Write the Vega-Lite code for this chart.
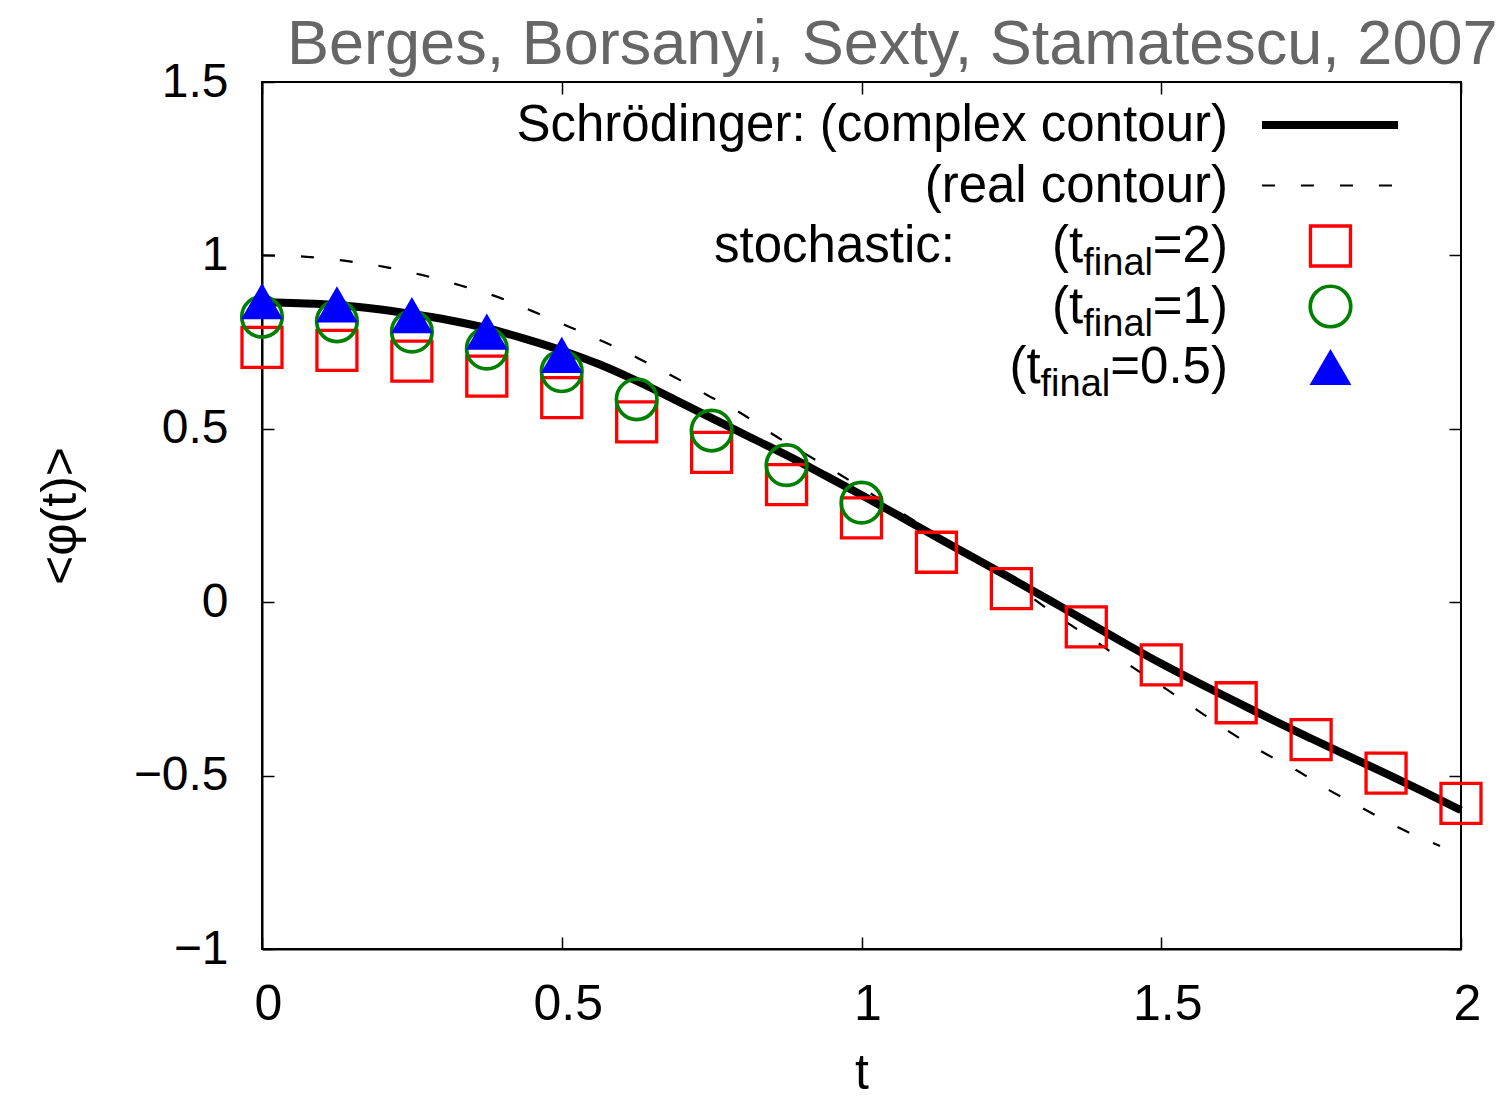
{
  "$schema": "https://vega.github.io/schema/vega-lite/v6.json",
  "width": 1199,
  "height": 867,
  "autosize": {"type": "none"},
  "padding": {"left": 262, "top": 82, "right": 40, "bottom": 151},
  "background": "white",
  "config": {
    "font": "Liberation Sans",
    "view": {"stroke": "black", "strokeWidth": 2},
    "axis": {
      "grid": false,
      "domainColor": "black",
      "domainWidth": 2,
      "tickColor": "black",
      "tickWidth": 1.5,
      "labelColor": "black",
      "titleColor": "black",
      "labelFont": "Liberation Sans",
      "titleFont": "Liberation Sans",
      "titleFontWeight": "normal",
      "labelFlush": false
    }
  },
  "datasets": {
    "curves": [
      {"series": "complex", "t": 0, "v": 0.865},
      {"series": "complex", "t": 0.0625, "v": 0.862},
      {"series": "complex", "t": 0.125, "v": 0.857},
      {"series": "complex", "t": 0.1875, "v": 0.846},
      {"series": "complex", "t": 0.25, "v": 0.831},
      {"series": "complex", "t": 0.3125, "v": 0.813},
      {"series": "complex", "t": 0.375, "v": 0.79},
      {"series": "complex", "t": 0.4375, "v": 0.76},
      {"series": "complex", "t": 0.5, "v": 0.726},
      {"series": "complex", "t": 0.5625, "v": 0.686},
      {"series": "complex", "t": 0.625, "v": 0.638},
      {"series": "complex", "t": 0.6875, "v": 0.585},
      {"series": "complex", "t": 0.75, "v": 0.531},
      {"series": "complex", "t": 0.8125, "v": 0.477},
      {"series": "complex", "t": 0.875, "v": 0.424},
      {"series": "complex", "t": 0.9375, "v": 0.367},
      {"series": "complex", "t": 1.0, "v": 0.309},
      {"series": "complex", "t": 1.0625, "v": 0.249},
      {"series": "complex", "t": 1.125, "v": 0.188},
      {"series": "complex", "t": 1.1875, "v": 0.128},
      {"series": "complex", "t": 1.25, "v": 0.068},
      {"series": "complex", "t": 1.3125, "v": 0.007},
      {"series": "complex", "t": 1.375, "v": -0.055},
      {"series": "complex", "t": 1.4375, "v": -0.117},
      {"series": "complex", "t": 1.5, "v": -0.177},
      {"series": "complex", "t": 1.5625, "v": -0.233},
      {"series": "complex", "t": 1.625, "v": -0.287},
      {"series": "complex", "t": 1.6875, "v": -0.341},
      {"series": "complex", "t": 1.75, "v": -0.393},
      {"series": "complex", "t": 1.8125, "v": -0.444},
      {"series": "complex", "t": 1.875, "v": -0.494},
      {"series": "complex", "t": 1.9375, "v": -0.546},
      {"series": "complex", "t": 2.0, "v": -0.6},
      {"series": "real", "t": 0, "v": 1.0},
      {"series": "real", "t": 0.075, "v": 0.996},
      {"series": "real", "t": 0.14, "v": 0.984},
      {"series": "real", "t": 0.204, "v": 0.967},
      {"series": "real", "t": 0.268, "v": 0.943},
      {"series": "real", "t": 0.33, "v": 0.914},
      {"series": "real", "t": 0.395, "v": 0.879},
      {"series": "real", "t": 0.45, "v": 0.84},
      {"series": "real", "t": 0.51, "v": 0.796},
      {"series": "real", "t": 0.57, "v": 0.751},
      {"series": "real", "t": 0.628, "v": 0.703},
      {"series": "real", "t": 0.687, "v": 0.65},
      {"series": "real", "t": 0.743, "v": 0.597},
      {"series": "real", "t": 0.799, "v": 0.545},
      {"series": "real", "t": 0.854, "v": 0.482},
      {"series": "real", "t": 0.91, "v": 0.424},
      {"series": "real", "t": 0.966, "v": 0.366},
      {"series": "real", "t": 1.1, "v": 0.222},
      {"series": "real", "t": 1.24, "v": 0.073},
      {"series": "real", "t": 1.29, "v": 0.006},
      {"series": "real", "t": 1.345, "v": -0.061},
      {"series": "real", "t": 1.395, "v": -0.118},
      {"series": "real", "t": 1.452, "v": -0.187},
      {"series": "real", "t": 1.506, "v": -0.248},
      {"series": "real", "t": 1.56, "v": -0.311},
      {"series": "real", "t": 1.614, "v": -0.374},
      {"series": "real", "t": 1.669, "v": -0.432},
      {"series": "real", "t": 1.725, "v": -0.484},
      {"series": "real", "t": 1.78, "v": -0.542},
      {"series": "real", "t": 1.836, "v": -0.594},
      {"series": "real", "t": 1.895, "v": -0.649},
      {"series": "real", "t": 1.965, "v": -0.703}
    ],
    "mc": [
      {"tfinal": 2, "t": 0, "v": 0.735},
      {"tfinal": 2, "t": 0.125, "v": 0.726},
      {"tfinal": 2, "t": 0.25, "v": 0.695},
      {"tfinal": 2, "t": 0.375, "v": 0.652},
      {"tfinal": 2, "t": 0.5, "v": 0.59},
      {"tfinal": 2, "t": 0.625, "v": 0.52},
      {"tfinal": 2, "t": 0.75, "v": 0.432},
      {"tfinal": 2, "t": 0.875, "v": 0.339},
      {"tfinal": 2, "t": 1.0, "v": 0.243},
      {"tfinal": 2, "t": 1.125, "v": 0.144},
      {"tfinal": 2, "t": 1.25, "v": 0.039},
      {"tfinal": 2, "t": 1.375, "v": -0.071},
      {"tfinal": 2, "t": 1.5, "v": -0.181},
      {"tfinal": 2, "t": 1.625, "v": -0.29},
      {"tfinal": 2, "t": 1.75, "v": -0.396},
      {"tfinal": 2, "t": 1.875, "v": -0.493},
      {"tfinal": 2, "t": 2.0, "v": -0.58},
      {"tfinal": 1, "t": 0, "v": 0.823},
      {"tfinal": 1, "t": 0.125, "v": 0.81},
      {"tfinal": 1, "t": 0.25, "v": 0.78},
      {"tfinal": 1, "t": 0.375, "v": 0.731},
      {"tfinal": 1, "t": 0.5, "v": 0.666},
      {"tfinal": 1, "t": 0.625, "v": 0.585},
      {"tfinal": 1, "t": 0.75, "v": 0.495},
      {"tfinal": 1, "t": 0.875, "v": 0.395},
      {"tfinal": 1, "t": 1.0, "v": 0.287},
      {"tfinal": 0.5, "t": 0, "v": 0.868},
      {"tfinal": 0.5, "t": 0.125, "v": 0.859},
      {"tfinal": 0.5, "t": 0.25, "v": 0.828},
      {"tfinal": 0.5, "t": 0.375, "v": 0.78},
      {"tfinal": 0.5, "t": 0.5, "v": 0.713}
    ],
    "legend": [
      {"row": 1, "series": "complex", "label": "Schrödinger: (complex contour)"},
      {"row": 2, "series": "real", "label": "(real contour)"},
      {"row": 3, "series": "tf2", "head": "stochastic:", "pre": "(t", "sub": "final", "post": "=2)"},
      {"row": 4, "series": "tf1", "pre": "(t", "sub": "final", "post": "=1)"},
      {"row": 5, "series": "tf05", "pre": "(t", "sub": "final", "post": "=0.5)"}
    ]
  },
  "layer": [
    {
      "layer": [
        {
          "data": {"name": "curves"},
          "transform": [{"filter": "datum.series == 'complex'"}],
          "mark": {"type": "line", "color": "black", "strokeWidth": 8, "interpolate": "monotone", "strokeCap": "butt"},
          "encoding": {
            "x": {
              "field": "t", "type": "quantitative",
              "scale": {"domain": [0, 2], "nice": false},
              "axis": {
                "orient": "bottom", "values": [0, 0.5, 1, 1.5, 2], "format": "~g",
                "tickSize": -12, "labelPadding": 42, "labelFontSize": 50, "labelOffset": 6,
                "title": "t", "titleFontSize": 50, "titleBaseline": "alphabetic", "titleY": 139
              }
            },
            "y": {
              "field": "v", "type": "quantitative",
              "scale": {"domain": [-1, 1.5], "nice": false},
              "axis": {
                "orient": "left", "values": [-1, -0.5, 0, 0.5, 1, 1.5], "format": "~g",
                "tickSize": -12, "labelPadding": 46, "labelFontSize": 48,
                "title": "<φ(t)>", "titleFontSize": 50, "titleBaseline": "alphabetic",
                "titleAngle": -90, "titleX": -187, "titleY": 433.5
              }
            }
          }
        },
        {
          "data": {"name": "curves"},
          "transform": [{"filter": "datum.series == 'real'"}],
          "mark": {"type": "line", "color": "black", "strokeWidth": 2.2, "strokeDash": [13, 26], "interpolate": "monotone"},
          "encoding": {
            "x": {
              "field": "t", "type": "quantitative",
              "scale": {"domain": [0, 2], "nice": false},
              "axis": {
                "orient": "top", "values": [0, 0.5, 1, 1.5, 2], "labels": false, "tickSize": -12, "domain": false,
                "title": "Berges, Borsanyi, Sexty, Stamatescu, 2007",
                "titleColor": "#666666", "titleFontSize": 63, "titleFontWeight": "normal",
                "titleAlign": "right", "titleAnchor": "end", "titleBaseline": "alphabetic",
                "titleX": 1235, "titleY": -19, "titleAngle": 0
              }
            },
            "y": {
              "field": "v", "type": "quantitative",
              "scale": {"domain": [-1, 1.5], "nice": false},
              "axis": {"orient": "right", "values": [-1, -0.5, 0, 0.5, 1, 1.5], "labels": false, "title": null, "tickSize": -12, "domain": false}
            }
          }
        },
        {
          "data": {"name": "mc"},
          "transform": [{"filter": "datum.tfinal == 2"}],
          "mark": {"type": "point", "shape": "square", "filled": false, "color": "#ff0000", "strokeWidth": 3.3, "size": 1600, "opacity": 1},
          "encoding": {
            "x": {"field": "t", "type": "quantitative", "scale": {"domain": [0, 2], "nice": false}, "axis": null},
            "y": {"field": "v", "type": "quantitative", "scale": {"domain": [-1, 1.5], "nice": false}, "axis": null}
          }
        },
        {
          "data": {"name": "mc"},
          "transform": [{"filter": "datum.tfinal == 1"}],
          "mark": {"type": "point", "shape": "circle", "filled": false, "color": "#008000", "strokeWidth": 3.7, "size": 1640, "opacity": 1},
          "encoding": {
            "x": {"field": "t", "type": "quantitative", "scale": {"domain": [0, 2], "nice": false}, "axis": null},
            "y": {"field": "v", "type": "quantitative", "scale": {"domain": [-1, 1.5], "nice": false}, "axis": null}
          }
        },
        {
          "data": {"name": "mc"},
          "transform": [{"filter": "datum.tfinal == 0.5"}],
          "mark": {"type": "point", "shape": "triangle-up", "filled": true, "color": "#0000ff", "size": 1750, "opacity": 1},
          "encoding": {
            "x": {"field": "t", "type": "quantitative", "scale": {"domain": [0, 2], "nice": false}, "axis": null},
            "y": {"field": "v", "type": "quantitative", "scale": {"domain": [-1, 1.5], "nice": false}, "axis": null}
          }
        }
      ],
      "resolve": {"axis": {"x": "independent", "y": "independent"}}
    },
    {
      "data": {"name": "legend"},
      "layer": [
        {
          "transform": [{"filter": "datum.label != null"}],
          "mark": {"type": "text", "align": "right", "baseline": "alphabetic", "dy": 16, "fontSize": 51, "color": "black"},
          "encoding": {
            "x": {"datum": 1.6113, "type": "quantitative", "scale": {"domain": [0, 2], "nice": false}, "axis": null},
            "y": {"field": "row", "type": "quantitative", "scale": {"domain": [1, 5], "range": [43, 285]}, "axis": null},
            "text": {"field": "label"}
          }
        },
        {
          "transform": [{"filter": "datum.head != null"}],
          "mark": {"type": "text", "align": "right", "baseline": "alphabetic", "dy": 16, "fontSize": 51, "color": "black"},
          "encoding": {
            "x": {"datum": 1.156, "type": "quantitative", "axis": null},
            "y": {"field": "row", "type": "quantitative", "axis": null},
            "text": {"field": "head"}
          }
        },
        {
          "transform": [{"filter": "datum.post != null"}],
          "mark": {"type": "text", "align": "right", "baseline": "alphabetic", "dy": 16, "fontSize": 51, "color": "black"},
          "encoding": {
            "x": {"datum": 1.6113, "type": "quantitative", "axis": null},
            "y": {"field": "row", "type": "quantitative", "axis": null},
            "text": {"field": "post"}
          }
        },
        {
          "transform": [{"filter": "datum.sub != null && datum.row < 5"}],
          "mark": {"type": "text", "align": "right", "baseline": "alphabetic", "dy": 29, "dx": -75, "fontSize": 38, "color": "black"},
          "encoding": {
            "x": {"datum": 1.6113, "type": "quantitative", "axis": null},
            "y": {"field": "row", "type": "quantitative", "axis": null},
            "text": {"field": "sub"}
          }
        },
        {
          "transform": [{"filter": "datum.pre != null && datum.row < 5"}],
          "mark": {"type": "text", "align": "right", "baseline": "alphabetic", "dy": 16, "dx": -144.7, "fontSize": 51, "color": "black"},
          "encoding": {
            "x": {"datum": 1.6113, "type": "quantitative", "axis": null},
            "y": {"field": "row", "type": "quantitative", "axis": null},
            "text": {"field": "pre"}
          }
        },
        {
          "transform": [{"filter": "datum.row == 5"}],
          "mark": {"type": "text", "align": "right", "baseline": "alphabetic", "dy": 29, "dx": -117.7, "fontSize": 38, "color": "black"},
          "encoding": {
            "x": {"datum": 1.6113, "type": "quantitative", "axis": null},
            "y": {"field": "row", "type": "quantitative", "axis": null},
            "text": {"field": "sub"}
          }
        },
        {
          "transform": [{"filter": "datum.row == 5"}],
          "mark": {"type": "text", "align": "right", "baseline": "alphabetic", "dy": 16, "dx": -187.4, "fontSize": 51, "color": "black"},
          "encoding": {
            "x": {"datum": 1.6113, "type": "quantitative", "axis": null},
            "y": {"field": "row", "type": "quantitative", "axis": null},
            "text": {"field": "pre"}
          }
        },
        {
          "transform": [{"filter": "datum.series == 'complex'"}],
          "mark": {"type": "rule", "color": "black", "strokeWidth": 8, "strokeCap": "butt"},
          "encoding": {
            "x": {"datum": 1.668, "type": "quantitative", "axis": null},
            "x2": {"datum": 1.895},
            "y": {"field": "row", "type": "quantitative", "axis": null}
          }
        },
        {
          "transform": [{"filter": "datum.series == 'real'"}],
          "mark": {"type": "rule", "color": "black", "strokeWidth": 2.2, "strokeDash": [13, 26], "strokeCap": "butt"},
          "encoding": {
            "x": {"datum": 1.668, "type": "quantitative", "axis": null},
            "x2": {"datum": 1.885},
            "y": {"field": "row", "type": "quantitative", "axis": null}
          }
        },
        {
          "transform": [{"filter": "datum.series == 'tf2'"}],
          "mark": {"type": "point", "shape": "square", "filled": false, "color": "#ff0000", "strokeWidth": 3.3, "size": 1600, "opacity": 1},
          "encoding": {
            "x": {"datum": 1.7823, "type": "quantitative", "axis": null},
            "y": {"field": "row", "type": "quantitative", "axis": null}
          }
        },
        {
          "transform": [{"filter": "datum.series == 'tf1'"}],
          "mark": {"type": "point", "shape": "circle", "filled": false, "color": "#008000", "strokeWidth": 3.7, "size": 1640, "opacity": 1},
          "encoding": {
            "x": {"datum": 1.7823, "type": "quantitative", "axis": null},
            "y": {"field": "row", "type": "quantitative", "axis": null}
          }
        },
        {
          "transform": [{"filter": "datum.series == 'tf05'"}],
          "mark": {"type": "point", "shape": "triangle-up", "filled": true, "color": "#0000ff", "size": 1750, "opacity": 1},
          "encoding": {
            "x": {"datum": 1.7823, "type": "quantitative", "axis": null},
            "y": {"field": "row", "type": "quantitative", "axis": null}
          }
        }
      ]
    }
  ],
  "resolve": {"scale": {"y": "independent"}}
}
